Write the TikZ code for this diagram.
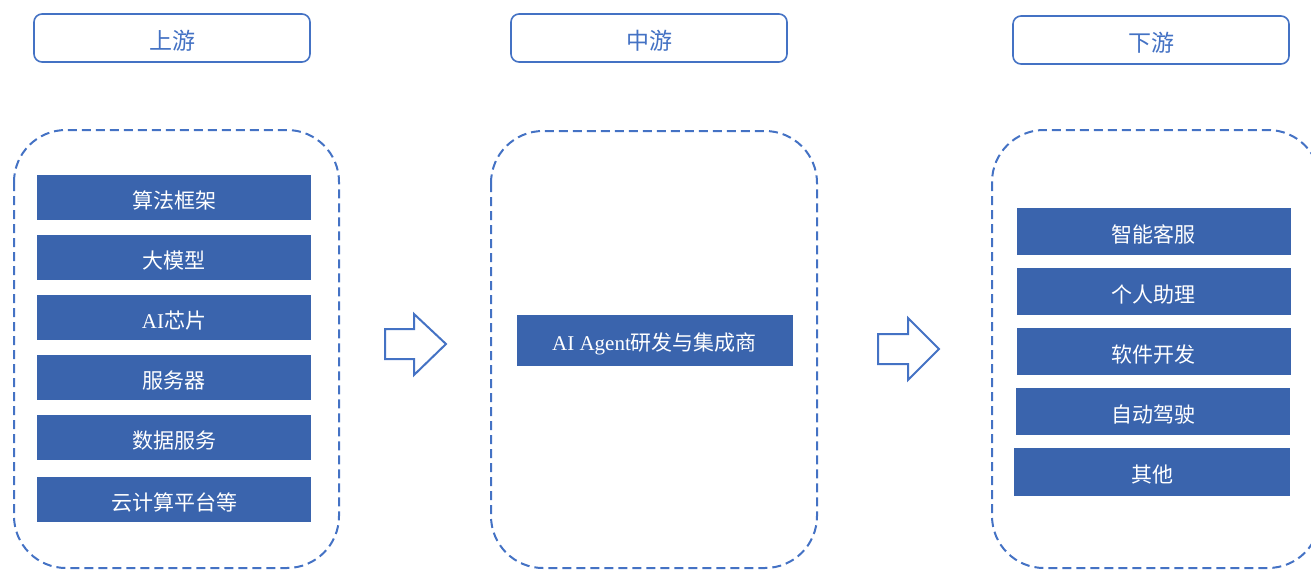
\documentclass[tikz,border=0pt]{standalone}
\usepackage{fontspec}
\setmainfont{Liberation Serif}
\newfontfamily\cjk{Noto Sans CJK SC}
\definecolor{hdr}{HTML}{4472C4}
\definecolor{fillb}{HTML}{3A64AD}
\newcommand\dn[1]{\raisebox{-3pt}[\height][\depth]{#1}}
\begin{document}
\begin{tikzpicture}[x=1pt,y=-1pt,
  hdrbox/.style={draw=hdr,line width=1.6pt,rounded corners=8pt,fill=white,text=hdr,
    minimum width=276pt,minimum height=48pt,inner sep=0pt,font=\cjk\fontsize{23}{26}\selectfont},
  itembox/.style={fill=fillb,draw=none,text=white,inner sep=0pt,
    minimum width=274pt,minimum height=45pt,font=\fontsize{21}{24}\selectfont},
  group/.style={draw=hdr,line width=2pt,dash pattern=on 9pt off 5pt,rounded corners=52pt},
  blockarrow/.style={draw=hdr,line width=2pt,fill=white,line join=miter}]
\useasboundingbox (0,0) rectangle (1311,570);
\clip (0,0) rectangle (1311,570);
% headers
\node[hdrbox] (h1) at (172,38) {\dn{上游}};
\node[hdrbox] (h2) at (649,38) {\dn{中游}};
\node[hdrbox] (h3) at (1151,40) {\dn{下游}};
% dashed groups
\draw[group] (14,130) rectangle (339,568);
\draw[group] (491,131) rectangle (817,568);
\draw[group] (992,130) rectangle (1320,568);
% upstream items
\node[itembox] (u1) at (174,197.5) {\dn{\cjk 算法框架}};
\node[itembox] (u2) at (174,257.5) {\dn{\cjk 大模型}};
\node[itembox] (u3) at (174,317.5) {\dn{AI{\cjk 芯片}}};
\node[itembox] (u4) at (174,377.5) {\dn{\cjk 服务器}};
\node[itembox] (u5) at (174,437.5) {\dn{\cjk 数据服务}};
\node[itembox] (u6) at (174,499.5) {\dn{\cjk 云计算平台等}};
% midstream
\node[itembox,minimum width=276pt,minimum height=51pt] (m1) at (654.5,340.5) {\dn{AI Agent{\cjk 研发与集成商}}};
% downstream
\node[itembox,minimum height=47pt] (d1) at (1153.5,231) {\dn{\cjk 智能客服}};
\node[itembox,minimum height=47pt] (d2) at (1153.5,291.5) {\dn{\cjk 个人助理}};
\node[itembox,minimum height=47pt] (d3) at (1153.5,351.5) {\dn{\cjk 软件开发}};
\node[itembox,minimum height=47pt] (d4) at (1153,411.5) {\dn{\cjk 自动驾驶}};
\node[itembox,minimum height=48pt,minimum width=276pt] (d5) at (1152,471.5) {\dn{\cjk 其他}};
% block arrows
\draw[blockarrow] (385,329) -- (414,329) -- (414,314) -- (446,344) -- (414,375) -- (414,359) -- (385,359) -- cycle;
\draw[blockarrow] (878,334) -- (908,334) -- (908,318) -- (939,349) -- (908,380) -- (908,364) -- (878,364) -- cycle;
\end{tikzpicture}
\end{document}
